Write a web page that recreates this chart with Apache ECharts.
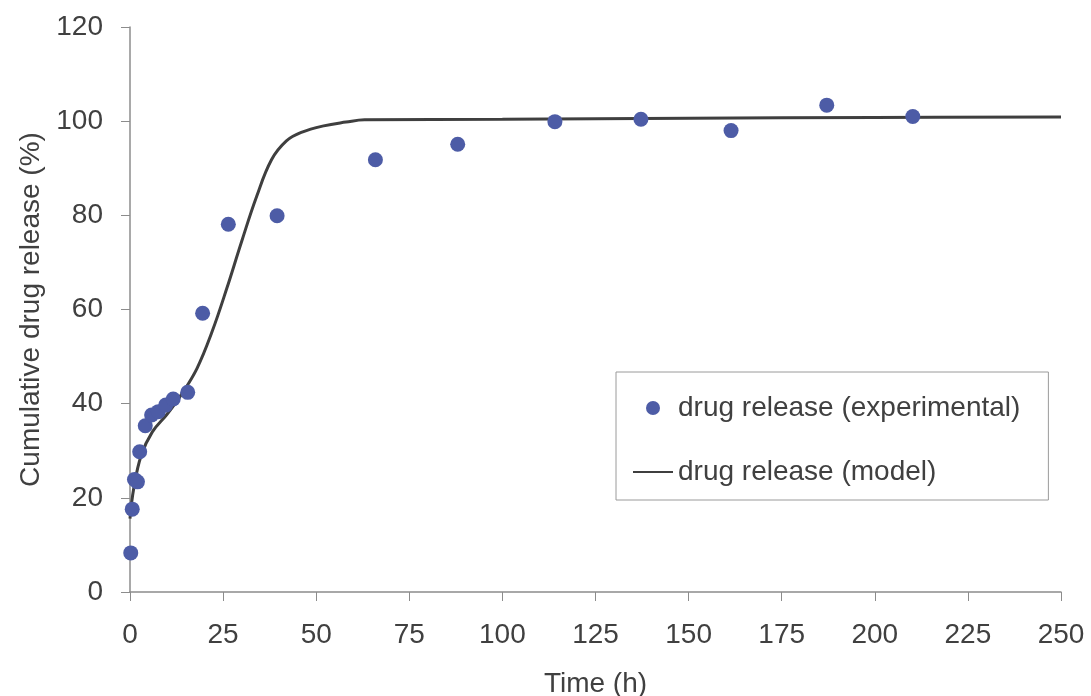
<!DOCTYPE html>
<html>
<head>
<meta charset="utf-8">
<script src="https://cdn.jsdelivr.net/npm/echarts@6/dist/echarts.min.js"></script>
<style>
  html, body { margin: 0; padding: 0; background: #fff; }
  #chart { width: 1091px; height: 696px; }
</style>
</head>
<body>
<div id="chart"></div>
<script>
// experimental points (h, %)
var expTime = [0.2, 0.6, 1.2, 2.0, 2.6, 4.1, 5.8, 7.6, 9.6, 11.6, 15.5, 19.5, 26.4, 39.5, 65.9, 88.0, 114.1, 137.2, 161.4, 187.1, 210.2];
var expRelease = [8.3, 17.6, 23.9, 23.4, 29.8, 35.3, 37.6, 38.3, 39.7, 41.0, 42.4, 59.2, 78.1, 79.9, 91.8, 95.1, 99.9, 100.4, 98.0, 103.4, 101.0];

// model curve
var modelTime = [0, 1, 3, 6, 10, 14, 18, 22, 26, 30, 34, 38, 42, 46, 52, 58, 63, 100, 150, 200, 250];
var modelRelease = [15.6, 22, 29, 34, 37.8, 42.2, 47.5, 55.2, 64.5, 74.5, 84, 91.8, 95.8, 97.6, 99, 99.8, 100.3, 100.4, 100.6, 100.8, 100.9];

var xTicks = [0, 250, 25];
var yTicks = [0, 120, 20];

var expName = 'drug release (experimental)';
var modelName = 'drug release (model)';

function pairs(a, b) {
    var out = [];
    for (var i = 0; i < a.length; i++) out.push([a[i], b[i]]);
    return out;
}

var font = 'Liberation Sans, Arial, sans-serif';
var axisColor = '#8c8c8c';
var textColor = '#404040';

var option = {
    animation: false,
    backgroundColor: '#fff',
    textStyle: { fontFamily: font },
    grid: { left: 130, right: 30, top: 27, bottom: 104, containLabel: false, outerBoundsMode: 'none' },
    legend: {
        orient: 'vertical',
        left: 616,
        top: 372,
        padding: [20, 28, 12, 16],
        itemGap: 32,
        itemWidth: 40,
        itemHeight: 14,
        borderColor: '#9a9a9a',
        borderWidth: 1,
        textStyle: { fontSize: 28, lineHeight: 32, color: textColor, fontFamily: font },
        data: [
            { name: expName, icon: 'circle' },
            { name: modelName, itemStyle: { opacity: 0 } }
        ]
    },
    xAxis: {
        type: 'value',
        min: xTicks[0],
        max: xTicks[1],
        interval: xTicks[2],
        name: 'Time (h)',
        nameLocation: 'middle',
        nameGap: 78,
        nameTextStyle: { fontSize: 28, color: textColor },
        axisLine: { show: true, lineStyle: { color: axisColor, width: 1.5 } },
        axisTick: { show: true, inside: false, length: 9, lineStyle: { color: axisColor } },
        axisLabel: { fontSize: 28, color: textColor, margin: 29 },
        splitLine: { show: false }
    },
    yAxis: {
        type: 'value',
        min: yTicks[0],
        max: yTicks[1],
        interval: yTicks[2],
        name: 'Cumulative drug release (%)',
        nameLocation: 'middle',
        nameGap: 84,
        nameTextStyle: { fontSize: 28, color: textColor },
        axisLine: { show: true, lineStyle: { color: axisColor, width: 1.5 } },
        axisTick: { show: true, inside: false, length: 9, lineStyle: { color: axisColor } },
        axisLabel: { fontSize: 28, color: textColor, margin: 27 },
        splitLine: { show: false }
    },
    series: [
        {
            name: modelName,
            type: 'line',
            data: pairs(modelTime, modelRelease),
            smooth: 0.4,
            showSymbol: false,
            lineStyle: { color: '#3f3f3f', width: 3 },
            itemStyle: { color: '#3f3f3f' },
            z: 2
        },
        {
            name: expName,
            type: 'scatter',
            data: pairs(expTime, expRelease),
            symbolSize: 15,
            itemStyle: { color: '#4d5ca6', opacity: 1 },
            z: 3
        }
    ]
};

var chart = echarts.init(document.getElementById('chart'));
chart.setOption(option);
</script>
</body>
</html>
